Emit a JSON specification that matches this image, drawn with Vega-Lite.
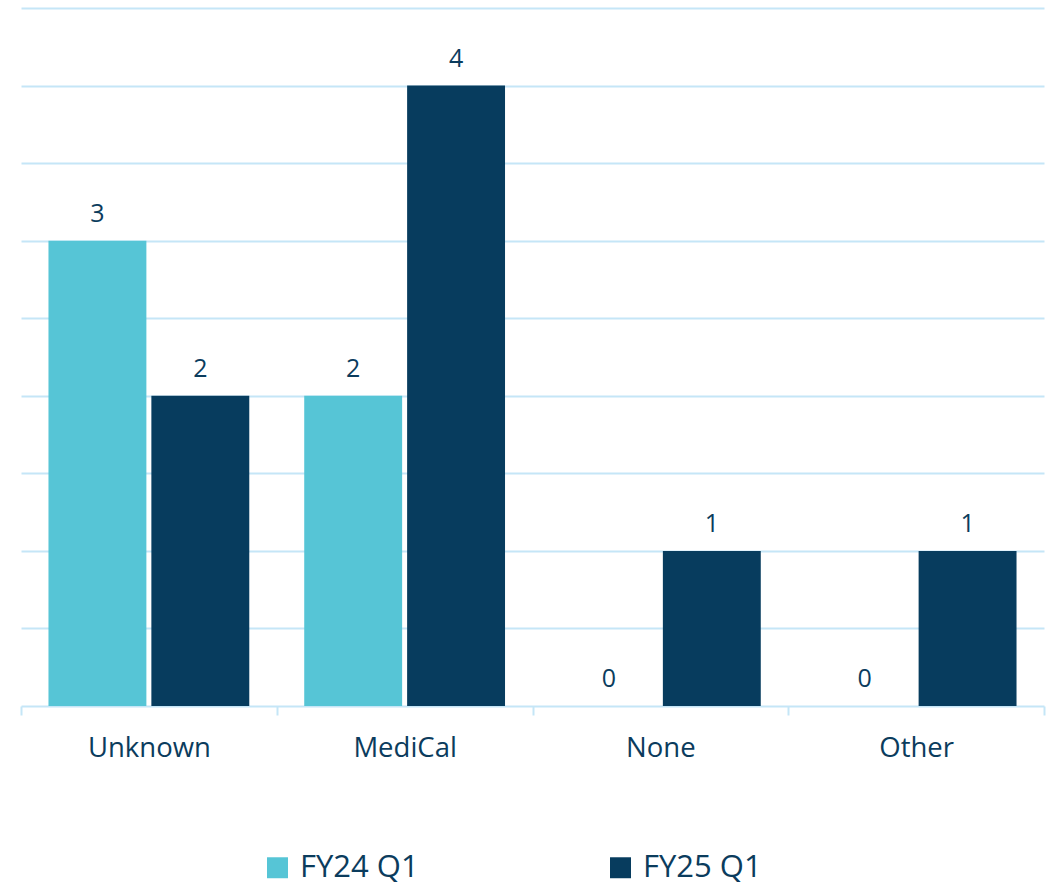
{
  "$schema": "https://vega.github.io/schema/vega-lite/v6.json",
  "width": 1023,
  "height": 698,
  "autosize": {"type": "none"},
  "padding": {"left": 21, "top": 8, "right": 12, "bottom": 188},
  "background": "#ffffff",
  "config": {
    "font": "Open Sans",
    "view": {"stroke": null}
  },
  "data": {
    "values": [
      {"category": "Unknown", "period": "FY24 Q1", "count": 3},
      {"category": "Unknown", "period": "FY25 Q1", "count": 2},
      {"category": "MediCal", "period": "FY24 Q1", "count": 2},
      {"category": "MediCal", "period": "FY25 Q1", "count": 4},
      {"category": "None", "period": "FY24 Q1", "count": 0},
      {"category": "None", "period": "FY25 Q1", "count": 1},
      {"category": "Other", "period": "FY24 Q1", "count": 0},
      {"category": "Other", "period": "FY25 Q1", "count": 1}
    ]
  },
  "encoding": {
    "x": {
      "field": "category",
      "type": "nominal",
      "sort": ["Unknown", "MediCal", "None", "Other"],
      "scale": {"paddingInner": 0, "paddingOuter": 0},
      "axis": {
        "title": null,
        "labelAngle": 0,
        "labelFont": "Open Sans",
        "labelFontSize": 27.5,
        "labelColor": "#0B3C5D",
        "labelPadding": 19,
        "domainColor": "#C5E6F7",
        "domainWidth": 2,
        "tickColor": "#C5E6F7",
        "tickWidth": 2,
        "tickSize": 9,
        "tickBand": "extent",
        "grid": false
      }
    },
    "xOffset": {
      "field": "period",
      "type": "nominal",
      "scale": {"paddingInner": 0.0485, "paddingOuter": 0.267}
    },
    "y": {
      "field": "count",
      "type": "quantitative",
      "scale": {"domain": [0, 4.5], "nice": false},
      "axis": {
        "title": null,
        "labels": false,
        "ticks": false,
        "domain": false,
        "grid": true,
        "gridColor": "#C5E6F7",
        "gridWidth": 2,
        "values": [0.5, 1, 1.5, 2, 2.5, 3, 3.5, 4, 4.5]
      }
    }
  },
  "layer": [
    {
      "mark": {"type": "bar"},
      "encoding": {
        "color": {
          "field": "period",
          "type": "nominal",
          "scale": {"domain": ["FY24 Q1", "FY25 Q1"], "range": ["#56C5D6", "#073C5E"]},
          "legend": {
            "title": null,
            "orient": "none",
            "legendX": 241,
            "legendY": 844,
            "direction": "horizontal",
            "symbolType": "square",
            "symbolSize": 440,
            "symbolStrokeWidth": 0,
            "labelFont": "Open Sans",
            "labelFontSize": 31,
            "labelColor": "#0B3C5D",
            "labelOffset": 7,
            "columnPadding": 186
          }
        }
      }
    },
    {
      "mark": {"type": "text", "baseline": "bottom", "dy": -14, "fontSize": 25, "color": "#0B3C5D", "font": "Open Sans"},
      "encoding": {
        "text": {"field": "count", "type": "quantitative"}
      }
    }
  ]
}
